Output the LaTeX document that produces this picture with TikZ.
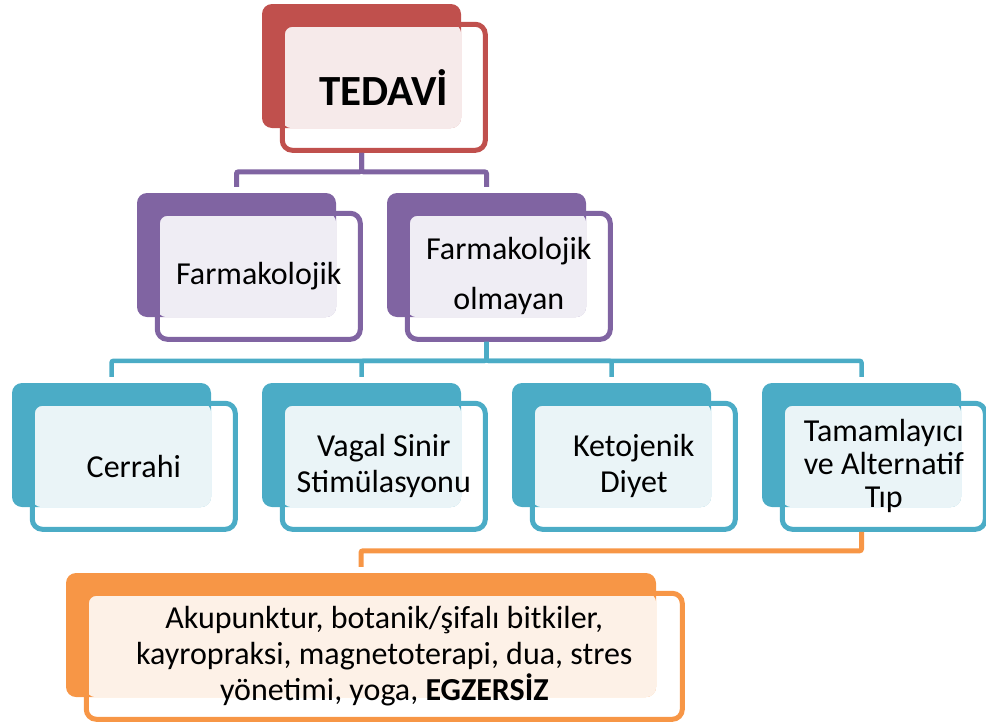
\documentclass[tikz,border=0pt]{standalone}
\usepackage{fontspec}
\setmainfont{Carlito}
\usetikzlibrary{positioning}
\definecolor{tedred}{HTML}{C0504D}
\definecolor{tedpale}{HTML}{F6EAEA}
\definecolor{farmpurp}{HTML}{8064A2}
\definecolor{farmpale}{HTML}{EFEDF4}
\definecolor{yolteal}{HTML}{4BACC6}
\definecolor{yolpale}{HTML}{EAF4F7}
\definecolor{altorange}{HTML}{F79646}
\definecolor{altpale}{HTML}{FDF1E7}

\begin{document}
\begin{tikzpicture}[x=1pt,y=-1pt,
    back/.style={fill=#1,rounded corners=10pt,minimum width=199pt,
      minimum height=124pt,inner sep=0pt},
    front/.style={draw=#1,line width=5pt,rounded corners=10pt,
      minimum width=203pt,minimum height=126pt,inner sep=2pt,align=center,
      font=\fontsize{32}{35}\selectfont},
    tree/.style={draw=#1,line width=5pt,rounded corners=2pt,shorten >=6pt}]
 \useasboundingbox (0,0) rectangle (986,726);
 % top
 \node[back=tedred] (tedB) at (361.5,66) {};
 \fill[tedpale,rounded corners=10pt] ([shift={(20,20)}]tedB.north west) rectangle (tedB.south east);
 \node[front=tedred,below right=18pt and 18pt of tedB.north west,
   font=\fontsize{43}{48}\selectfont\bfseries] (ted) {TEDAVİ};
 % second level
 \node[back=farmpurp] (farmB) at (236.5,255) {};
 \fill[farmpale,rounded corners=10pt] ([shift={(20,20)}]farmB.north west) rectangle (farmB.south east);
 \node[front=farmpurp,below right=18pt and 18pt of farmB.north west] (farm) {Farmakolojik};
 \node[back=farmpurp] (farmolB) at (486.5,255) {};
 \fill[farmpale,rounded corners=10pt] ([shift={(20,20)}]farmolB.north west) rectangle (farmolB.south east);
 \node[front=farmpurp,below right=18pt and 18pt of farmolB.north west,
   font=\fontsize{32}{50}\selectfont] (farmol) {Farmakolojik\\olmayan};
 % third level
 \foreach \i/\t/\s in {1/Cerrahi/35,2/{Vagal Sinir\\Stimülasyonu}/36,
     3/{Ketojenik\\Diyet}/36,4/{Tamamlayıcı\\ve Alternatif\\Tıp}/33} {
  \node[back=yolteal] (yolB\i) at (111.5+250*\i-250,445) {};
  \fill[yolpale,rounded corners=10pt] ([shift={(20,20)}]yolB\i.north west) rectangle (yolB\i.south east);
  \node[front=yolteal,below right=18pt and 18pt of yolB\i.north west,
    font=\fontsize{32}{\s}\selectfont] (yol\i) {\t};
 }
 % bottom
 \node[back=altorange,minimum width=590pt] (altB) at (361,635) {};
 \fill[altpale,rounded corners=10pt] ([shift={(20,20)}]altB.north west) rectangle (altB.south east);
 \node[front=altorange,minimum width=596pt,below right=18pt and 18pt of altB.north west,
   font=\fontsize{32}{36}\selectfont] (alt)
   {Akupunktur, botanik/şifalı bitkiler,\\kayropraksi, magnetoterapi, dua, stres\\
    yönetimi, yoga, \textbf{EGZERSİZ}};
 % connectors
 \foreach \n in {farmB,farmolB}
  \draw[tree=farmpurp] (ted.south -| tedB.south) -- ++(0,19) -| (\n.north);
 \foreach \i in {1,...,4}
  \draw[tree=yolteal,line width=4.5pt] (farmol.south -| farmolB.south) -- ++(0,19) -| (yolB\i.north);
 \draw[tree=altorange] (yol4.south -| yolB4.south) -- ++(0,19) -| (altB.north);
\end{tikzpicture}
\end{document}
